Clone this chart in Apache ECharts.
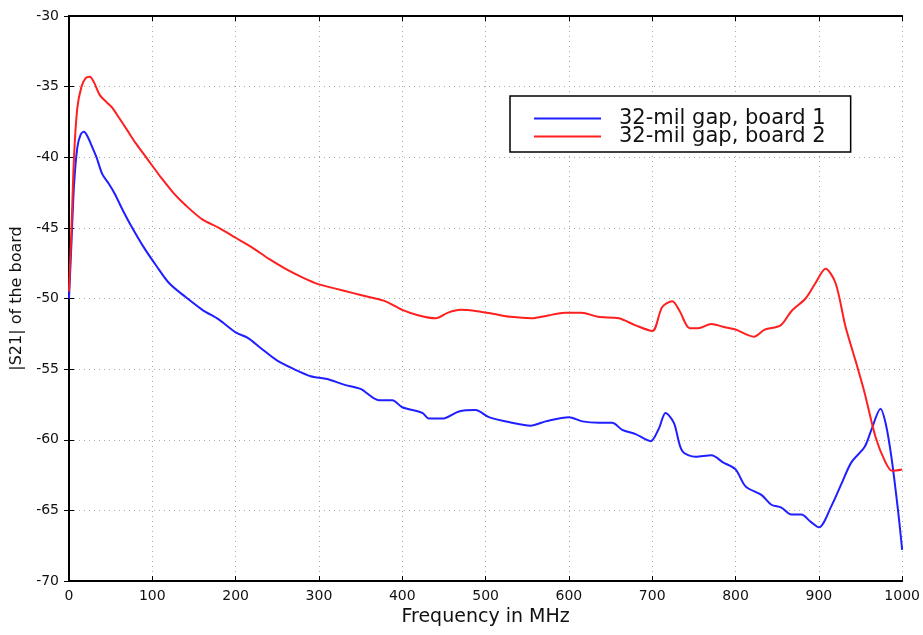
<!DOCTYPE html>
<html>
<head>
<meta charset="utf-8">
<script src="https://cdn.jsdelivr.net/npm/echarts@6/dist/echarts.min.js"></script>
<style>html,body{margin:0;padding:0;background:#fff}#c{width:923px;height:635px}</style>
</head>
<body>
<div id="c"></div>
<script>
// Frequency (MHz) and |S21| (dB) samples
const board1Freq = [0,3,6,10,14,18,22,28,33,40,48,55,65,75,90,105,120,140,160,180,200,215,230,250,270,290,310,330,350,372,388,400,424,432,448,468,488,504,532,554,572,600,616,636,652,664,680,698,708,716,726,736,752,771,785,800,812,831,843,855,867,879,890,900,915,928,939,955,963,974,980,987,995,1000];
const board1Vals = [-50,-46,-42,-39.3,-38.4,-38.2,-38.5,-39.3,-40.0,-41.2,-41.9,-42.6,-43.8,-44.9,-46.4,-47.7,-48.9,-49.9,-50.8,-51.5,-52.4,-52.8,-53.5,-54.4,-55.0,-55.5,-55.7,-56.1,-56.4,-57.2,-57.2,-57.7,-58.1,-58.5,-58.5,-58.0,-57.9,-58.4,-58.8,-59.0,-58.7,-58.4,-58.7,-58.8,-58.8,-59.3,-59.6,-60.1,-59.2,-58.1,-58.8,-60.8,-61.2,-61.1,-61.6,-62.1,-63.3,-63.9,-64.6,-64.8,-65.3,-65.3,-65.8,-66.2,-64.7,-63.0,-61.6,-60.5,-59.3,-57.8,-58.8,-61.2,-65.0,-67.8];

const board2Freq = [0,3,6,10,15,20,25,30,37,45,52,60,70,80,90,100,110,125,140,160,180,200,220,240,260,280,300,320,340,360,380,400,420,440,455,470,490,510,530,555,575,595,615,635,660,680,700,712,724,733,745,755,771,785,800,822,835,854,867,884,896,908,920,932,944,955,968,980,988,1000];
const board2Vals = [-49.5,-45,-40,-36.5,-35,-34.4,-34.3,-34.7,-35.6,-36.1,-36.5,-37.2,-38.1,-39.0,-39.8,-40.6,-41.4,-42.5,-43.4,-44.4,-45.0,-45.7,-46.4,-47.2,-47.9,-48.5,-49.0,-49.3,-49.6,-49.9,-50.2,-50.8,-51.2,-51.4,-51.0,-50.8,-50.9,-51.1,-51.3,-51.4,-51.2,-51.0,-51.0,-51.3,-51.4,-51.9,-52.3,-50.6,-50.2,-50.9,-52.1,-52.1,-51.8,-52.0,-52.2,-52.7,-52.2,-51.9,-50.9,-50.0,-48.9,-47.9,-48.9,-52.0,-54.4,-56.7,-59.8,-61.6,-62.2,-62.1];

const seriesNames = ['32-mil gap, board 1', '32-mil gap, board 2'];
const xTitle = 'Frequency in MHz';
const yTitle = '|S21| of the board';

const pair = (f, v) => f.map((x, i) => [x, v[i]]);
const FONT = '"DejaVu Sans", Verdana, sans-serif';

const chart = echarts.init(document.getElementById('c'), null, {renderer: 'canvas'});
const tickStyle = {show: true, inside: true, length: 5, lineStyle: {color: '#000', width: 1}};
const split = {show: true, lineStyle: {color: '#a8a8a8', width: 1, type: [1, 4]}};
const plain = v => String(v);
chart.setOption({
  animation: false,
  backgroundColor: '#fff',
  grid: {left: 69, right: 19, top: 16, bottom: 54},
  legend: {
    orient: 'vertical', left: 510, top: 96,
    padding: [12, 25, 5, 23],
    borderColor: '#000', borderWidth: 1.5, backgroundColor: '#fff',
    itemWidth: 67, itemHeight: 14, itemGap: -3,
    itemStyle: {opacity: 0},
    lineStyle: {width: 2},
    textStyle: {fontFamily: FONT, fontSize: 21, color: '#111', padding: [0, 0, 0, 13]},
    data: seriesNames
  },
  xAxis: [{
    type: 'value', min: 0, max: 1000, interval: 100,
    name: xTitle, nameLocation: 'middle', nameGap: 23,
    nameTextStyle: {fontFamily: FONT, fontSize: 19, color: '#111'},
    axisLine: {show: true, lineStyle: {color: '#000', width: 2}},
    axisTick: tickStyle,
    axisLabel: {fontFamily: FONT, fontSize: 14, color: '#111', margin: 8, formatter: plain},
    splitLine: split
  }, {
    type: 'value', position: 'top', min: 0, max: 1000, interval: 100,
    axisLine: {show: true, lineStyle: {color: '#000', width: 2}},
    axisTick: tickStyle, axisLabel: {show: false}, splitLine: {show: false}
  }],
  yAxis: [{
    type: 'value', min: -70, max: -30, interval: 5,
    name: yTitle, nameLocation: 'middle', nameGap: 40, nameRotate: 90,
    nameTextStyle: {fontFamily: FONT, fontSize: 16, color: '#111'},
    axisLine: {show: true, lineStyle: {color: '#000', width: 2}},
    axisTick: tickStyle,
    axisLabel: {fontFamily: FONT, fontSize: 14, color: '#111', margin: 10, formatter: plain},
    splitLine: split
  }, {
    type: 'value', position: 'right', min: -70, max: -30, interval: 5,
    axisLine: {show: true, lineStyle: {color: '#000', width: 2}},
    axisTick: tickStyle, axisLabel: {show: false}, splitLine: {show: false}
  }],
  series: [{
    name: seriesNames[0], type: 'line', data: pair(board1Freq, board1Vals),
    symbol: 'none', smooth: 0.3, color: '#1f1fff',
    lineStyle: {width: 2, color: '#1f1fff'}
  }, {
    name: seriesNames[1], type: 'line', data: pair(board2Freq, board2Vals),
    symbol: 'none', smooth: 0.3, color: '#ff1f1f',
    lineStyle: {width: 2, color: '#ff1f1f'}
  }]
});
</script>
</body>
</html>
